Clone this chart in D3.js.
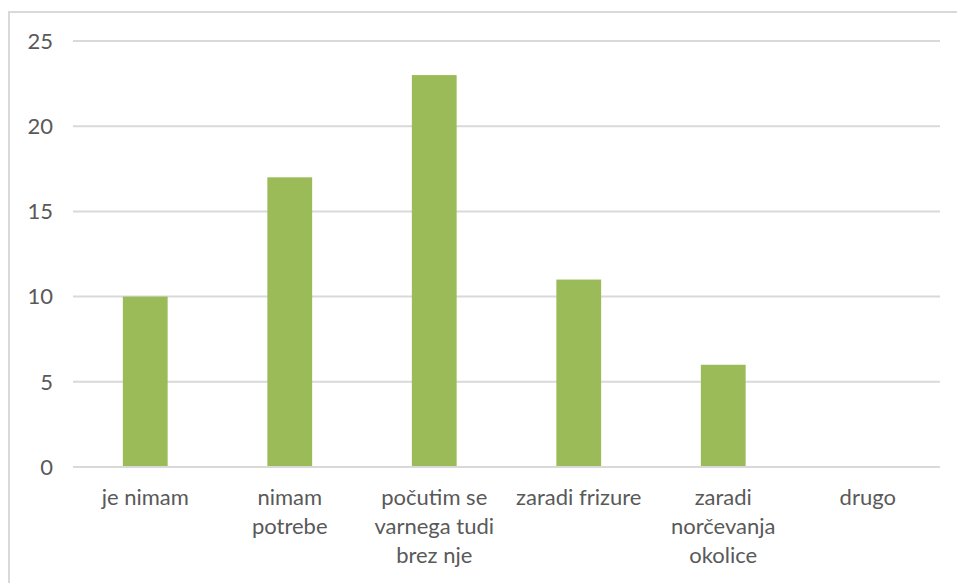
<!DOCTYPE html>
<html><head><meta charset="utf-8">
<script src="https://cdn.jsdelivr.net/npm/d3@7"></script>
<style>body{margin:0;background:#fff;} svg{display:block;}</style>
</head><body>
<script>
const categories = ["je nimam", "nimam\npotrebe", "počutim se\nvarnega tudi\nbrez nje", "zaradi frizure", "zaradi\nnorčevanja\nokolice", "drugo"];
const values = [10, 17, 23, 11, 6, 0];
const yTicks = [0, 5, 10, 15, 20, 25];

const W = 957, H = 583;
const svg = d3.select("body").append("svg").attr("width", W).attr("height", H);
svg.append("rect").attr("x", 9).attr("y", 12).attr("width", W).attr("height", H)
  .attr("fill", "#fff").attr("stroke", "#d9d9d9").attr("stroke-width", 2);
const pLeft = 73, pRight = 940, pTop = 41, pBottom = 467;
const x = d3.scaleBand().domain(categories).range([pLeft, pRight]).paddingInner(0.69).paddingOuter(0.345);
const y = d3.scaleLinear().domain([0, 25]).range([pBottom, pTop]);
const font = "Lato, 'Open Sans', sans-serif";
const g = svg.append("g");
g.selectAll("line.grid").data(yTicks).join("line").attr("class","grid")
  .attr("x1", pLeft).attr("x2", pRight).attr("y1", d => y(d)).attr("y2", d => y(d))
  .attr("stroke", "#d9d9d9").attr("stroke-width", 2);
g.selectAll("text.yt").data(yTicks).join("text").attr("class","yt")
  .attr("x", 53).attr("y", d => y(d)).attr("dy", "0.35em").attr("text-anchor", "end")
  .attr("font-family", font).attr("font-size", 22).attr("fill", "#595959").text(d => d);
g.selectAll("rect.bar").data(values).join("rect").attr("class","bar")
  .attr("x", (d,i) => x(categories[i])).attr("width", x.bandwidth())
  .attr("y", d => y(d)).attr("height", d => y(0) - y(d)).attr("fill", "#9bbb59");
g.append("line").attr("x1", pLeft).attr("x2", pRight).attr("y1", y(0)).attr("y2", y(0))
  .attr("stroke", "#d9d9d9").attr("stroke-width", 2);
const lab = g.selectAll("text.xl").data(categories).join("text").attr("class","xl")
  .attr("text-anchor", "middle").attr("font-family", font).attr("font-size", 22).attr("fill", "#595959");
lab.each(function(d){
  const t = d3.select(this);
  d.split("\n").forEach((s, i) => {
    t.append("tspan").attr("x", x(d) + x.bandwidth()/2).attr("y", 505 + i*29).text(s);
  });
});
</script>
</body></html>
